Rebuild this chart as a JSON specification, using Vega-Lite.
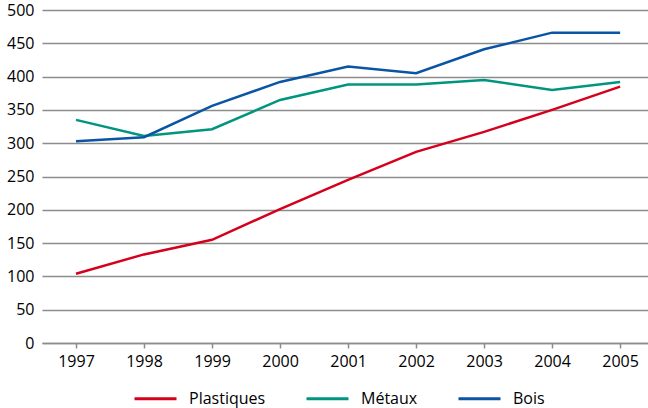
{
  "$schema": "https://vega.github.io/schema/vega-lite/v6.json",
  "width": 606,
  "height": 333,
  "autosize": {"type": "none"},
  "padding": {"left": 42, "top": 10, "right": 0, "bottom": 65},
  "background": "white",
  "config": {
    "font": "Open Sans",
    "view": {"stroke": null},
    "axis": {"labelFont": "Open Sans", "labelFontSize": 16, "labelColor": "#000000"},
    "legend": {"labelFont": "Open Sans", "labelFontSize": 16, "labelColor": "#000000"}
  },
  "data": {
    "values": [
      {"annee": 1997, "serie": "Plastiques", "valeur": 104},
      {"annee": 1998, "serie": "Plastiques", "valeur": 133},
      {"annee": 1999, "serie": "Plastiques", "valeur": 155},
      {"annee": 2000, "serie": "Plastiques", "valeur": 201},
      {"annee": 2001, "serie": "Plastiques", "valeur": 245},
      {"annee": 2002, "serie": "Plastiques", "valeur": 287},
      {"annee": 2003, "serie": "Plastiques", "valeur": 317},
      {"annee": 2004, "serie": "Plastiques", "valeur": 350},
      {"annee": 2005, "serie": "Plastiques", "valeur": 385},
      {"annee": 1997, "serie": "Métaux", "valeur": 335},
      {"annee": 1998, "serie": "Métaux", "valeur": 311},
      {"annee": 1999, "serie": "Métaux", "valeur": 321},
      {"annee": 2000, "serie": "Métaux", "valeur": 365},
      {"annee": 2001, "serie": "Métaux", "valeur": 388},
      {"annee": 2002, "serie": "Métaux", "valeur": 388},
      {"annee": 2003, "serie": "Métaux", "valeur": 395},
      {"annee": 2004, "serie": "Métaux", "valeur": 380},
      {"annee": 2005, "serie": "Métaux", "valeur": 392},
      {"annee": 1997, "serie": "Bois", "valeur": 303},
      {"annee": 1998, "serie": "Bois", "valeur": 309},
      {"annee": 1999, "serie": "Bois", "valeur": 356},
      {"annee": 2000, "serie": "Bois", "valeur": 392},
      {"annee": 2001, "serie": "Bois", "valeur": 415},
      {"annee": 2002, "serie": "Bois", "valeur": 405},
      {"annee": 2003, "serie": "Bois", "valeur": 441},
      {"annee": 2004, "serie": "Bois", "valeur": 466},
      {"annee": 2005, "serie": "Bois", "valeur": 466}
    ]
  },
  "mark": {"type": "line", "strokeWidth": 2.5},
  "encoding": {
    "x": {
      "field": "annee",
      "type": "quantitative",
      "scale": {"domain": [1996.5, 2005.41], "nice": false, "zero": false},
      "axis": {
        "values": [1997, 1998, 1999, 2000, 2001, 2002, 2003, 2004, 2005],
        "format": "d",
        "title": null,
        "grid": false,
        "domainColor": "#8c8c8c",
        "domainWidth": 1.5,
        "tickColor": "#8c8c8c",
        "tickWidth": 1.5,
        "tickSize": 5,
        "labelPadding": 5,
        "labelFlush": false,
        "labelOverlap": false
      }
    },
    "y": {
      "field": "valeur",
      "type": "quantitative",
      "scale": {"domain": [0, 500], "nice": false},
      "axis": {
        "values": [0, 50, 100, 150, 200, 250, 300, 350, 400, 450, 500],
        "title": null,
        "domain": false,
        "ticks": false,
        "grid": true,
        "gridColor": "#8c8c8c",
        "gridWidth": 1.5,
        "labelPadding": 8,
        "labelFlush": false
      }
    },
    "color": {
      "field": "serie",
      "type": "nominal",
      "sort": ["Plastiques", "Métaux", "Bois"],
      "scale": {"domain": ["Plastiques", "Métaux", "Bois"], "range": ["#d5001c", "#00957f", "#0a55a3"]},
      "legend": {
        "title": null,
        "orient": "none",
        "legendX": 91,
        "legendY": 366,
        "direction": "horizontal",
        "symbolType": "stroke",
        "symbolSize": 1764,
        "symbolStrokeWidth": 3,
        "labelOffset": 11,
        "columnPadding": 34
      }
    }
  }
}
